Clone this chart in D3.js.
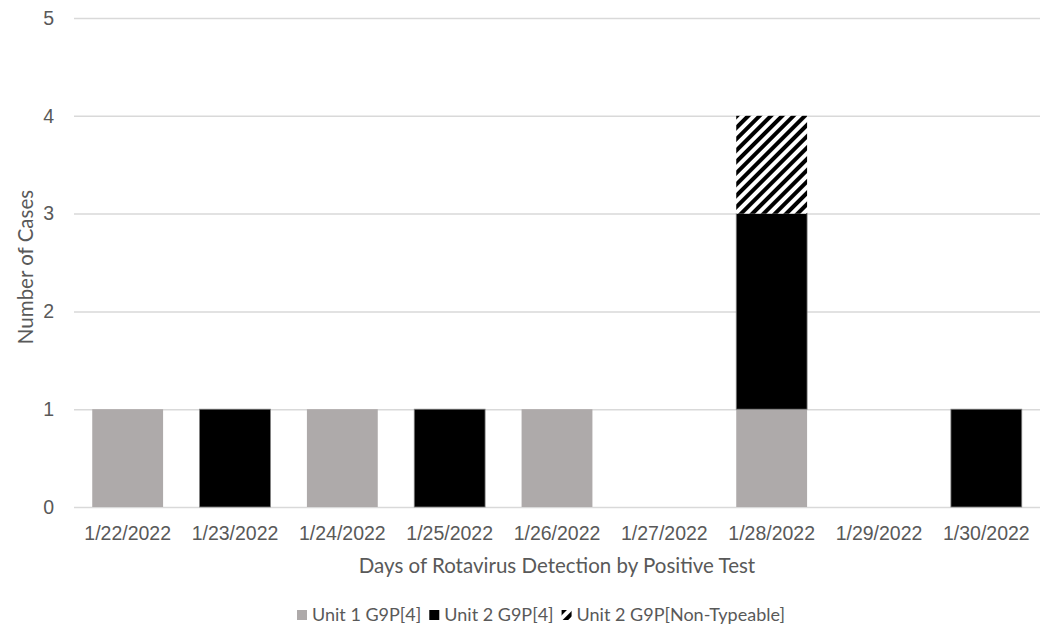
<!DOCTYPE html>
<html>
<head>
<meta charset="utf-8">
<script src="https://cdn.jsdelivr.net/npm/d3@7"></script>
<style>
  html, body { margin: 0; padding: 0; background: #fff; }
  svg { display: block; font-family: Lato, "Open Sans", sans-serif; }
  .tick text { fill: #595959; font-size: 19.5px; }
  .axis-label { fill: #595959; font-size: 20.5px; }
  .legend text { fill: #595959; font-size: 18px; }
</style>
</head>
<body>
<div id="chart"></div>
<script>
// ── Data ─────────────────────────────────────────────────────────────────
const dates = ["1/22/2022", "1/23/2022", "1/24/2022", "1/25/2022", "1/26/2022",
  "1/27/2022", "1/28/2022", "1/29/2022", "1/30/2022"];
const seriesNames = ["Unit 1 G9P[4]", "Unit 2 G9P[4]", "Unit 2 G9P[Non-Typeable]"];
const unit1 = [1, 0, 1, 0, 1, 0, 1, 0, 0];
const unit2 = [0, 1, 0, 1, 0, 0, 2, 0, 1];
const unit2NT = [0, 0, 0, 0, 0, 0, 1, 0, 0];
const yTicks = [0, 1, 2, 3, 4, 5];

const W = 1046, H = 627;
const margin = { top: 18, right: 6, bottom: 120, left: 74 };
const width = 1040 - margin.left;
const height = 507 - margin.top;

const svg = d3.select("#chart").append("svg")
  .attr("width", W).attr("height", H);

// ── Hatch pattern ────────────────────────────────────────────────────────
const defs = svg.append("defs");
const pat = defs.append("pattern")
  .attr("id", "hatch")
  .attr("patternUnits", "userSpaceOnUse")
  .attr("width", 8).attr("height", 8)
  .attr("patternTransform", "rotate(45)");
pat.append("rect").attr("width", 8).attr("height", 8).attr("fill", "#fff");
pat.append("rect").attr("width", 4).attr("height", 8).attr("fill", "#000");

const colors = ["#aeaaaa", "#000000", "url(#hatch)"];

const g = svg.append("g").attr("transform", `translate(${margin.left},${margin.top})`);

// ── Scales ───────────────────────────────────────────────────────────────
const x = d3.scaleBand().domain(dates).range([0, width]).paddingInner(0.34).paddingOuter(0.17);
const y = d3.scaleLinear().domain([0, 5]).range([height, 0]);

// ── Grid ─────────────────────────────────────────────────────────────────
g.append("g")
  .call(d3.axisLeft(y).tickValues(yTicks).tickSize(-width).tickFormat(""))
  .call(ax => ax.select(".domain").remove())
  .call(ax => ax.selectAll("line").attr("stroke", "#d9d9d9").attr("stroke-width", 1.5));

// ── Stacked bars ─────────────────────────────────────────────────────────
const rows = dates.map((d, i) => ({ date: d, s0: unit1[i], s1: unit2[i], s2: unit2NT[i] }));
const stack = d3.stack().keys(["s0", "s1", "s2"])(rows);

g.selectAll(".layer")
  .data(stack)
  .join("g")
  .attr("class", "layer")
  .attr("fill", (d, i) => colors[i])
  .selectAll("rect")
  .data(d => d.filter(v => v[1] - v[0] > 0))
  .join("rect")
  .attr("x", d => x(d.data.date))
  .attr("width", x.bandwidth())
  .attr("y", d => y(d[1]))
  .attr("height", d => y(d[0]) - y(d[1]))
  .attr("stroke", function () {
    return d3.select(this.parentNode).attr("fill") === "#000000" ? "#7f7f7f" : "none";
  })
  .attr("stroke-width", 0.8);

// ── Axes ─────────────────────────────────────────────────────────────────
g.append("g")
  .attr("transform", `translate(0,${height})`)
  .call(d3.axisBottom(x).tickSize(0).tickPadding(19))
  .call(ax => ax.select(".domain").remove());

g.append("g")
  .call(d3.axisLeft(y).tickValues(yTicks).tickSize(0).tickPadding(20).tickFormat(d3.format("d")))
  .call(ax => ax.select(".domain").remove());

// ── Axis labels ──────────────────────────────────────────────────────────
svg.append("text")
  .attr("class", "axis-label")
  .attr("x", 557).attr("y", 573)
  .attr("text-anchor", "middle")
  .text("Days of Rotavirus Detection by Positive Test");

svg.append("text")
  .attr("class", "axis-label")
  .attr("transform", "translate(33,267) rotate(-90)")
  .attr("text-anchor", "middle")
  .text("Number of Cases");

// ── Legend ───────────────────────────────────────────────────────────────
const legend = svg.append("g").attr("class", "legend");
let lx = 297;
seriesNames.forEach((name, i) => {
  const item = legend.append("g").attr("transform", `translate(${lx},621)`);
  item.append("rect").attr("x", 0).attr("y", -11).attr("width", 10).attr("height", 10)
    .attr("fill", colors[i]);
  const t = item.append("text").attr("x", 15).attr("y", 0).text(name);
  lx += 15 + t.node().getComputedTextLength() + 8;
});
</script>
</body>
</html>
